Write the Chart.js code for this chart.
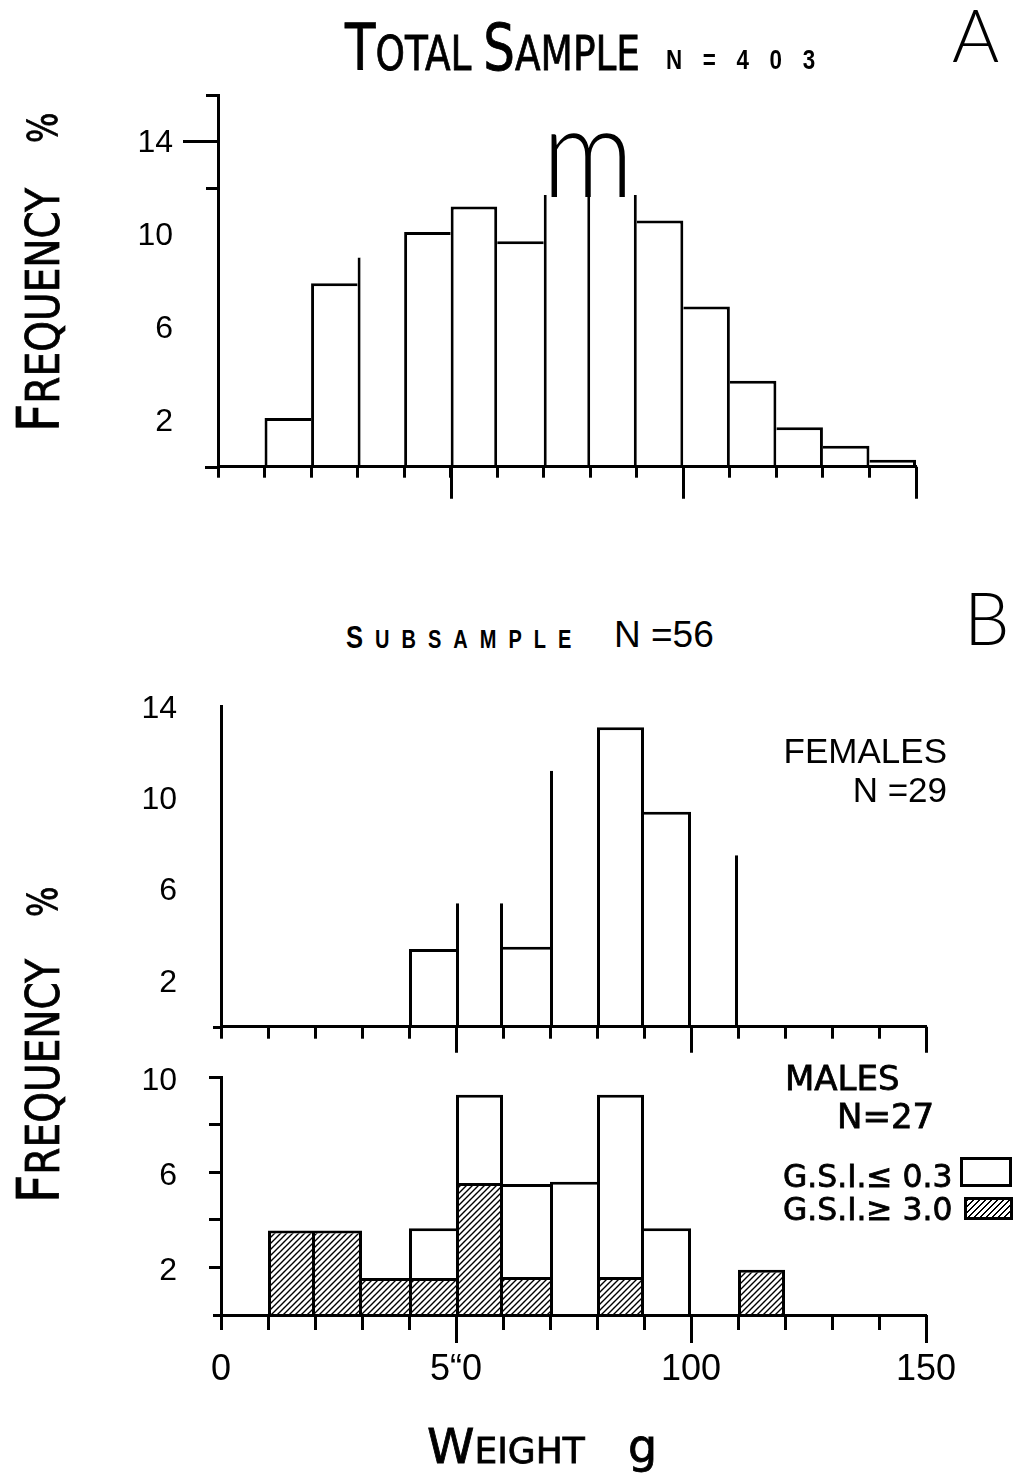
<!DOCTYPE html>
<html>
<head>
<meta charset="utf-8">
<title>Weight frequency</title>
<script src="https://cdn.jsdelivr.net/npm/chart.js@4.4.1/dist/chart.umd.min.js"></script>
<style>
  html, body { margin: 0; padding: 0; background: #fff; }
  body { position: relative; width: 1018px; height: 1476px; overflow: hidden; }
  canvas { position: absolute; left: 0; }
  .t { position: absolute; white-space: nowrap; line-height: 1; color: #000; transform-origin: 0 0; }
  .hand { font-family: 'DejaVu Sans', sans-serif; -webkit-text-stroke: 0.8px #000; }
  .helv { font-family: 'Liberation Sans', Arial, sans-serif; }
  .thin { font-family: Lato, 'Liberation Sans', sans-serif; font-weight: 300; }
  .box { position: absolute; border: 3px solid #000; box-sizing: border-box; background: #fff; }
  .hatch { background: repeating-linear-gradient(135deg, #000 0 1.4px, #fff 1.4px 4.2px); }
</style>
</head>
<body>
<canvas id="chartA" width="1018" height="540" style="top:0"></canvas>
<canvas id="chartFemales" width="1018" height="400" style="top:660px"></canvas>
<canvas id="chartMales" width="1018" height="430" style="top:1040px"></canvas>

<!-- panel A -->
<div class="t hand" style="left:345px;top:16px;font-size:64px;transform:scaleX(0.78)">T<span style="font-size:48px">OTAL </span>S<span style="font-size:48px">AMPLE</span></div>
<div class="t helv" style="left:666px;top:46px;font-size:28px;font-weight:bold;letter-spacing:9px;transform:scaleX(0.8)">N = 4 0 3</div>
<div class="t thin" style="left:952px;top:-2px;font-size:72px">A</div>
<div class="t hand" style="left:10px;top:432px;font-size:58px;transform:rotate(-90deg) scaleX(0.85)">F<span style="font-size:46px">REQUENCY</span></div>
<div class="t hand" style="left:23px;top:143px;font-size:40px;transform:rotate(-90deg) scaleX(0.8)">%</div>

<!-- panel B -->
<div class="t helv" style="left:346px;top:621px;font-size:32px;font-weight:bold;letter-spacing:15px;transform:scaleX(0.8)">S<span style="font-size:25px">UBSAMPLE</span></div>
<div class="t helv" style="left:614px;top:616px;font-size:37px">N =56</div>
<div class="t thin" style="left:964px;top:581px;font-size:72px">B</div>
<div class="t helv" style="right:71px;top:733px;font-size:35px;text-align:right">FEMALES</div>
<div class="t helv" style="right:71px;top:772px;font-size:35px;text-align:right">N =29</div>
<div class="t hand" style="left:785px;top:1061px;font-size:34px">MALES</div>
<div class="t hand" style="left:837px;top:1099px;font-size:34px">N=27</div>
<div class="t hand" style="left:783px;top:1160px;font-size:32px;transform:scaleX(0.98)">G.S.I.≤ 0.3</div>
<div class="box" style="left:960px;top:1157px;width:52px;height:30px"></div>
<div class="t hand" style="left:783px;top:1193px;font-size:32px;transform:scaleX(0.98)">G.S.I.≥ 3.0</div>
<div class="box hatch" style="left:964px;top:1197px;width:49px;height:23px"></div>
<div class="t hand" style="left:10px;top:1203px;font-size:58px;transform:rotate(-90deg) scaleX(0.85)">F<span style="font-size:46px">REQUENCY</span></div>
<div class="t hand" style="left:23px;top:917px;font-size:40px;transform:rotate(-90deg) scaleX(0.8)">%</div>
<div class="t hand" style="left:427px;top:1422px;font-size:48px">W<span style="font-size:36px">EIGHT</span></div>
<div class="t hand" style="left:628px;top:1423px;font-size:46px">g</div>

<script>
// centres of the 10 g weight classes
const weightBins = [5, 15, 25, 35, 45, 55, 65, 75, 85, 95, 105, 115, 125, 135, 145];

// A: total sample, N = 403 (% per class)
const totalPct = [0, 2.1, 7.9, 9.0, 10.1, 11.2, 9.7, 11.7, 11.7, 10.6, 6.9, 3.7, 1.7, 0.9, 0.3];
const totalOpenTop = [3, 7, 8];      // classes printed without their top line

// B: subsample, females N = 29
const femalePct = [0, 0, 0, 0, 3.4, 5.4, 3.5, 11.2, 13.1, 9.4, 7.5, 0, 0, 0, 0];
const femaleOpenTop = [5, 7, 10];

// B: subsample, males N = 27, split by G.S.I.
const maleHighGsi = [0, 3.55, 3.55, 1.55, 1.55, 5.55, 1.6, 0, 1.6, 0, 0, 1.9, 0, 0, 0];  // G.S.I. >= 3.0
const maleLowGsi = [0, 0, 0, 0, 2.1, 3.7, 3.9, 5.6, 7.65, 3.65, 0, 0, 0, 0, 0];        // G.S.I. <= 0.3

// axis ticks
const yTicksA = [2, 6, 10, 14];
const yTicksFemales = [2, 6, 10, 14];
const yTicksMales = [2, 4, 6, 8, 10];
const yLabelsMales = [2, 6, 10];
const xLabelValues = [0, 50, 100, 150];
const xLabelTexts = ['0', '5“0', '100', '150'];
const xMajorTicks = [50, 100, 150];
const yBreakA = [12, 16];            // bracket marks of the broken axis in A

const LINE = 3;
Chart.defaults.font.family = "'Liberation Sans', Arial, sans-serif";
Chart.defaults.color = '#000';

// a shared edge between two classes is drawn once, by the taller one
function edges(totals, openTop) {
    return ctx => {
        const i = ctx.dataIndex;
        if (i === undefined) return LINE;
        const last = totals.length - 1;
        return {
            left: (i === 0 || totals[i - 1] < totals[i]) ? LINE : 0,
            right: (i === last || totals[i] >= totals[i + 1]) ? LINE : 0,
            top: openTop.includes(i) ? 0 : LINE,
            bottom: 0
        };
    };
}

function hatchPattern() {
    const c = document.createElement('canvas');
    c.width = c.height = 6;
    const g = c.getContext('2d');
    g.fillStyle = '#fff';
    g.fillRect(0, 0, 6, 6);
    g.strokeStyle = '#000';
    g.lineWidth = 1.4;
    g.beginPath();
    g.moveTo(-1, 7); g.lineTo(7, -1);
    g.moveTo(-1, 1); g.lineTo(1, -1);
    g.moveTo(5, 7); g.lineTo(7, 5);
    g.stroke();
    return g.createPattern(c, 'repeat');
}

function points(values) {
    return values.map((v, i) => ({ x: weightBins[i], y: v }));
}

function barSet(label, values, fill, borderWidth) {
    return {
        label,
        data: points(values),
        backgroundColor: fill,
        borderColor: '#000',
        borderWidth,
        borderSkipped: false,
        inflateAmount: 0,
        barPercentage: 1,
        categoryPercentage: 1
    };
}

// no extra room for the end labels, the canvas layout is fixed by hand
function noPadding(s) {
    s.paddingTop = 0; s.paddingBottom = 0; s.paddingLeft = 0; s.paddingRight = 0;
}

function xScale(height, tickLen, showLabels, stacked) {
    return {
        type: 'linear', min: 0, max: 150, offset: false, stacked,
        afterFit: s => { s.height = height; noPadding(s); },
        border: { color: '#000', width: LINE, z: 1 },
        grid: { offset: false, drawOnChartArea: false, drawTicks: true, tickLength: tickLen, tickWidth: LINE, tickColor: '#000', z: 1 },
        ticks: {
            stepSize: 10, autoSkip: false, maxRotation: 0, minRotation: 0,
            display: showLabels, padding: 18,
            font: { family: "'Liberation Sans Narrow', 'Liberation Sans', sans-serif", size: 36 },
            callback: v => { const k = xLabelValues.indexOf(v); return k < 0 ? '' : xLabelTexts[k]; }
        }
    };
}

function yScale(max, tickVals, o) {
    return {
        min: 0, max, stacked: o.stacked,
        afterFit: s => { s.width = o.width; noPadding(s); },
        afterBuildTicks: s => { s.ticks = tickVals.map(v => ({ value: v })); },
        border: { color: '#000', width: LINE, z: 1 },
        grid: { drawOnChartArea: false, drawTicks: o.tickLen > 0, tickLength: o.tickLen, tickWidth: LINE, tickColor: o.tickColor || '#000', z: 1 },
        ticks: { padding: o.pad, labelOffset: o.shift || 0, font: { size: 32 }, callback: o.label || (v => v) }
    };
}

// longer ticks at 50 g steps, axis stubs, break marks and the overprinted letter in A
const figureExtras = {
    id: 'figureExtras',
    afterDraw(chart, args, o) {
        const { ctx } = chart;
        const xs = chart.scales.x, ys = chart.scales.y;
        const base = Math.round(ys.getPixelForValue(0)) + 0.5;
        ctx.save();
        ctx.strokeStyle = '#000';
        ctx.lineWidth = LINE;
        ctx.beginPath();
        (o.major || []).forEach(v => {
            const px = Math.round(xs.getPixelForValue(v)) + 0.5;
            ctx.moveTo(px, xs.top);
            ctx.lineTo(px, xs.top + o.majorLength);
        });
        if (o.stub) {
            ctx.moveTo(xs.left - o.stub, base);
            ctx.lineTo(xs.left, base);
        }
        (o.breaks || []).forEach(v => {
            const py = Math.round(ys.getPixelForValue(v)) + 0.5;
            ctx.moveTo(xs.left - 12, py);
            ctx.lineTo(xs.left, py);
        });
        ctx.stroke();
        if (o.glyph) {
            ctx.translate(xs.getPixelForValue(o.glyph.x), ys.getPixelForValue(o.glyph.y));
            ctx.scale(o.glyph.sx, 1);
            ctx.font = o.glyph.font;
            ctx.textAlign = 'center';
            ctx.textBaseline = 'alphabetic';
            ctx.fillStyle = '#000';
            ctx.fillText(o.glyph.text, 0, 0);
        }
        ctx.restore();
    }
};

function baseOptions(padding, scales, extras) {
    return {
        responsive: false,
        animation: false,
        layout: { padding },
        scales,
        plugins: { legend: { display: false }, tooltip: { enabled: false }, figureExtras: extras }
    };
}

// A: total sample
new Chart(document.getElementById('chartA'), {
    type: 'bar',
    data: { datasets: [barSet('Total sample', totalPct, '#fff', edges(totalPct, totalOpenTop))] },
    options: baseOptions(
        { left: 0, right: 102, top: 95, bottom: 0 },
        {
            x: xScale(73.3, 11, false, false),
            y: yScale(16, yTicksA, {
                width: 218, tickLen: 35, pad: 10, shift: 2,
                tickColor: c => (c.tick && c.tick.value === 14) ? '#000' : 'rgba(0,0,0,0)'
            })
        },
        {
            major: xMajorTicks, majorLength: 32, stub: 13, breaks: yBreakA,
            glyph: { text: 'm', x: 79.5, y: 11.6, sx: 0.9, font: "300 126px Lato, 'Liberation Sans', sans-serif" }
        }
    ),
    plugins: [figureExtras]
});

// B: females
new Chart(document.getElementById('chartFemales'), {
    type: 'bar',
    data: { datasets: [barSet('Females', femalePct, '#fff', edges(femalePct, femaleOpenTop))] },
    options: baseOptions(
        { left: 0, right: 92, top: 46.7, bottom: 0 },
        {
            x: xScale(33.3, 12, false, false),
            y: yScale(14, yTicksFemales, { width: 221, tickLen: 0, pad: 44, shift: 2 })
        },
        { major: xMajorTicks, majorLength: 26, stub: 8 }
    ),
    plugins: [figureExtras]
});

// B: males, stacked by G.S.I.
const maleTotals = maleHighGsi.map((v, i) => v + maleLowGsi[i]);
new Chart(document.getElementById('chartMales'), {
    type: 'bar',
    data: {
        datasets: [
            barSet('G.S.I. ≥ 3.0', maleHighGsi, hatchPattern(), edges(maleTotals, [])),
            barSet('G.S.I. ≤ 0.3', maleLowGsi, '#fff', edges(maleTotals, []))
        ]
    },
    options: baseOptions(
        { left: 0, right: 92, top: 37, bottom: 0 },
        {
            x: xScale(155, 15, true, true),
            y: yScale(10, yTicksMales, {
                width: 221, tickLen: 12, pad: 32, stacked: true, shift: 4,
                label: v => yLabelsMales.includes(v) ? v : ''
            })
        },
        { major: xMajorTicks, majorLength: 28, stub: 8 }
    ),
    plugins: [figureExtras]
});
</script>
</body>
</html>
